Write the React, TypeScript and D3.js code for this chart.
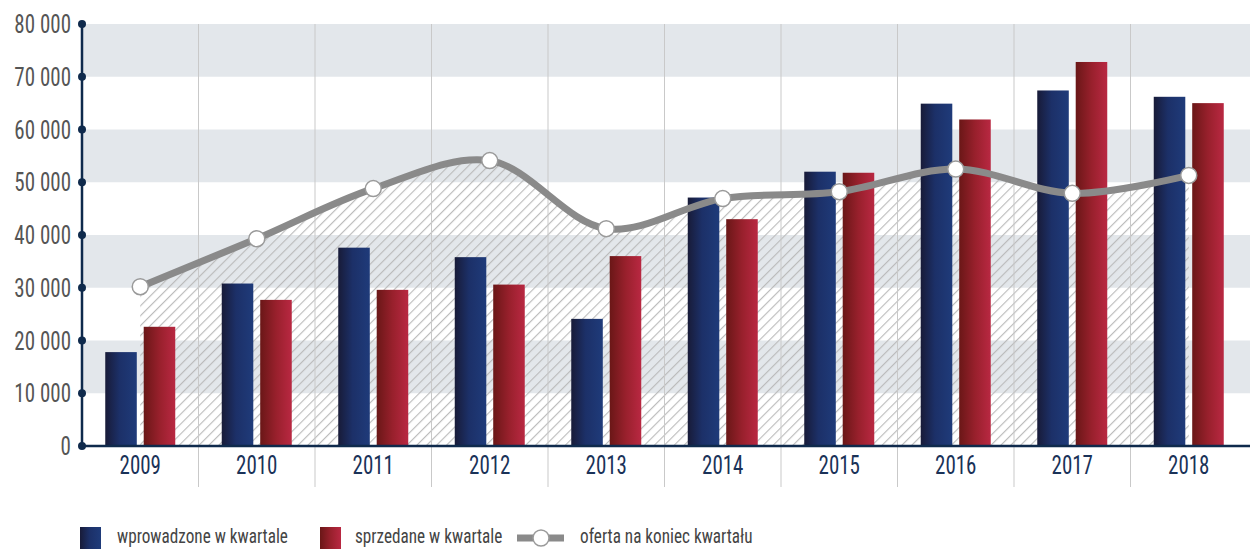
import React from "react";
import * as d3 from "d3";

const years = ["2009", "2010", "2011", "2012", "2013", "2014", "2015", "2016", "2017", "2018"];
const introduced = [17800, 30800, 37600, 35800, 24100, 47100, 52000, 64900, 67400, 66200];
const sold = [22600, 27700, 29600, 30600, 36000, 43000, 51800, 61900, 72800, 65000];
const offer = [30200, 39300, 48800, 54100, 41200, 46900, 48200, 52500, 47900, 51300];
const yTicks = [0, 10000, 20000, 30000, 40000, 50000, 60000, 70000, 80000];
const legendLabels = ["wprowadzone w kwartale", "sprzedane w kwartale", "oferta na koniec kwartału"];

const W = 1250;
const H = 549;
const FONT = "'Roboto Condensed', 'Liberation Sans Narrow', 'Arial Narrow', 'DejaVu Sans Condensed', sans-serif";

function T(props: { x: number; y: number; sx?: number; anchor?: string; size: number; fill: string; children: React.ReactNode; dy?: string }) {
  const sx = props.sx ?? 0.84;
  return (
    <text
      transform={`translate(${props.x},${props.y}) scale(${sx},1)`}
      textAnchor={props.anchor || "start"}
      fontFamily={FONT}
      fontSize={props.size}
      fill={props.fill}
      dy={props.dy}
    >
      {props.children}
    </text>
  );
}

export default function App() {
  const left = 82;
  const top = 24;
  const bottom = 446;
  const x0 = d3.scaleBand<string>().domain(years).range([left, left + 116.5 * years.length]).padding(0);
  const x1 = d3.scaleBand<string>().domain(["a", "b"]).range([0, 70]).paddingInner(0.18);
  const y = d3.scaleLinear().domain([0, 80000]).range([bottom, top]);
  const cx = (yr: string) => (x0(yr) as number) + x0.bandwidth() / 2;
  const fmt = (v: number) => d3.format(",")(v).replace(/,/g, " ");

  const pts: [number, number][] = years.map((yr, i) => [cx(yr), y(offer[i])]);
  const line = d3.line().curve(d3.curveCatmullRom.alpha(0.5))(pts) || "";
  const area = d3.area().curve(d3.curveCatmullRom.alpha(0.5)).y0(y(0))(pts) || "";

  const bands = [[70000, 80000], [50000, 60000], [30000, 40000], [10000, 20000]];

  return (
    <svg width={W} height={H} style={{ position: "absolute", left: 0, top: 0, background: "#fff" }}>
      <defs>
        <linearGradient id="gBlue" x1="0" x2="1" y1="0" y2="0">
          <stop offset="0" stopColor="#181b38" />
          <stop offset="0.45" stopColor="#1c3068" />
          <stop offset="1" stopColor="#1f3b7a" />
        </linearGradient>
        <linearGradient id="gRed" x1="0" x2="1" y1="0" y2="0">
          <stop offset="0" stopColor="#6a1717" />
          <stop offset="0.5" stopColor="#98202c" />
          <stop offset="1" stopColor="#b92842" />
        </linearGradient>
        <pattern id="hatch" patternUnits="userSpaceOnUse" width="7" height="7" patternTransform="rotate(45)">
          <line x1="0.6" y1="0" x2="0.6" y2="7" stroke="#b9b9b9" strokeWidth="1.1" />
        </pattern>
      </defs>

      {bands.map(([a, b], i) => (
        <rect key={i} x={left} y={y(b)} width={W - left} height={y(a) - y(b)} fill="#e3e7eb" />
      ))}

      <path d={area} fill="url(#hatch)" />

      {years.slice(1).map((yr) => (
        <line key={yr} x1={x0(yr)} x2={x0(yr)} y1={top} y2={487} stroke="#c9c9c9" strokeWidth={1} />
      ))}

      {years.map((yr, i) => {
        const g = (x0(yr) as number) + x0.bandwidth() / 2 - 35;
        return (
          <g key={yr}>
            <rect x={g + (x1("a") as number)} y={y(introduced[i])} width={x1.bandwidth()} height={y(0) - y(introduced[i])} fill="url(#gBlue)" />
            <rect x={g + (x1("b") as number)} y={y(sold[i])} width={x1.bandwidth()} height={y(0) - y(sold[i])} fill="url(#gRed)" />
          </g>
        );
      })}

      <path d={line} fill="none" stroke="#8a8a8a" strokeWidth={7} strokeLinecap="round" />
      {pts.map(([px, py], i) => (
        <circle key={i} cx={px} cy={py} r={8} fill="#ffffff" stroke="#9a9a9a" strokeWidth={1.5} />
      ))}

      <line x1={left} x2={W} y1={bottom} y2={bottom} stroke="#0f2a4c" strokeWidth={2.5} />
      <line x1={left} x2={left} y1={top} y2={bottom} stroke="#0f2a4c" strokeWidth={2.5} />
      {yTicks.map((t) => (
        <g key={t}>
          <circle cx={left} cy={y(t)} r={4} fill="#0f2a4c" />
          <T x={71} y={y(t)} dy="0.36em" anchor="end" size={25} fill="#555">
            {fmt(t)}
          </T>
        </g>
      ))}
      {years.map((yr) => (
        <T key={yr} x={cx(yr)} y={474} anchor="middle" size={25} fill="#1a3258">
          {yr}
        </T>
      ))}

      <rect x={80} y={527} width={21} height={22} fill="url(#gBlue)" />
      <T x={117} y={543} size={20} sx={0.86} fill="#444">{legendLabels[0]}</T>
      <rect x={320} y={527} width={21} height={22} fill="url(#gRed)" />
      <T x={355} y={543} size={20} sx={0.86} fill="#444">{legendLabels[1]}</T>
      <line x1={517} x2={564} y1={538} y2={538} stroke="#8a8a8a" strokeWidth={7} />
      <circle cx={541} cy={538} r={8} fill="#fff" stroke="#9a9a9a" strokeWidth={1.5} />
      <T x={580} y={543} size={20} sx={0.86} fill="#444">{legendLabels[2]}</T>
    </svg>
  );
}
